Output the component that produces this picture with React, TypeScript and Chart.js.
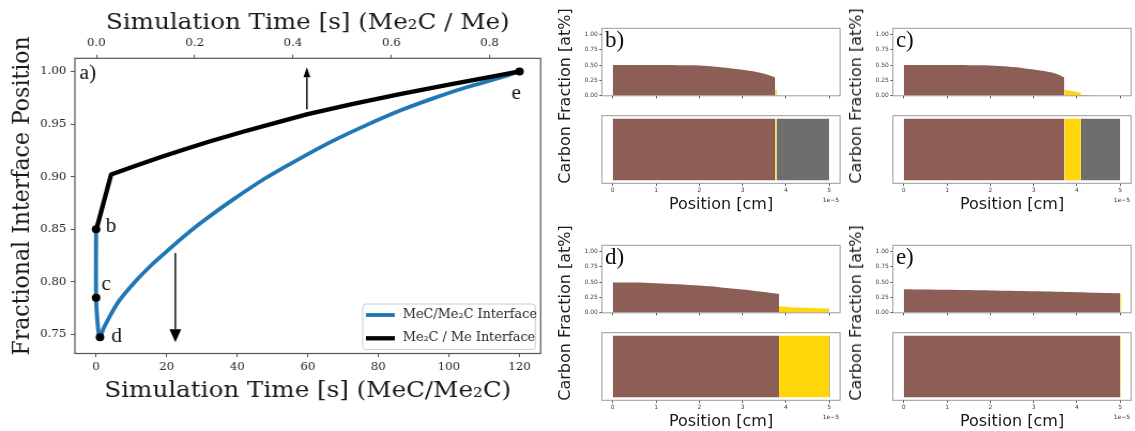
import React, { useEffect, useRef } from "react";
import { Chart, registerables } from "chart.js";

Chart.register(...registerables);

const SERIF = "'DejaVu Serif', serif";
const TIMES = "'Liberation Serif', 'Times New Roman', serif";
const SANS = "'DejaVu Sans', sans-serif";

const BLUE = "#1f77b4";
const BROWN = "#8c5e55";
const GOLD = "#ffd60a";
const GREY = "#6e6e6e";

// ---------- (a) fractional interface position vs simulation time ----------
// MeC/Me2C interface, plotted against the bottom time axis [s]
const mecTime = [0, 0, 0.4, 1.0, 2, 3.5, 6.5, 11, 16, 21, 25.5, 30, 38.7, 48.2, 57.6, 67.1, 76.6, 86, 95.5, 105, 114.5, 120];
const mecPosition = [0.85, 0.785, 0.762, 0.746, 0.755, 0.765, 0.782, 0.8, 0.817, 0.832, 0.845, 0.857, 0.878, 0.899, 0.917, 0.934, 0.949, 0.9626, 0.9744, 0.985, 0.994, 1.0];
// Me2C/Me interface, plotted against the top time axis [s]
const me2cTime = [0, 0.03, 0.08, 0.13, 0.18, 0.23, 0.3, 0.37, 0.43, 0.52, 0.6175, 0.72, 0.821, 0.861];
const me2cPosition = [0.85, 0.902, 0.9105, 0.9185, 0.926, 0.9335, 0.943, 0.9518, 0.9595, 0.969, 0.9785, 0.9878, 0.9965, 1.0];
// marked states b-e (bottom axis)
const stateName = ["b", "c", "d", "e"];
const stateTime = [0, 0, 1.1, 120];
const statePosition = [0.85, 0.785, 0.7475, 1.0];
const stateLabelTime = [2.7, 1.5, 4.3, 117.7];
const stateLabelPosition = [0.8474, 0.7919, 0.7434, 0.9734];
const panelTagTime = -4.68;
const panelTagPosition = 0.9928;
// direction arrows: axis, time, start and end position
const arrowAxis = ["x2", "x"];
const arrowTime = [0.4283, 22.47];
const arrowFrom = [0.9642, 0.8274];
const arrowTo = [1.0039, 0.7427];

// ---------- (b)-(e) carbon fraction profiles, position in 1e-5 cm ----------
const phaseNames = ["MeC", "Me₂C", "Me"];
const phaseColors = [BROWN, GOLD, GREY];

const bPosMeC = [0, 0.5, 1, 1.5, 2, 2.4, 2.8, 3.2, 3.5, 3.75];
const bFracMeC = [0.5, 0.5, 0.5, 0.499, 0.495, 0.474, 0.442, 0.405, 0.36, 0.3];
const bPosMe2C = [3.75, 3.79];
const bFracMe2C = [0.1, 0.1];
const bPosMe: number[] = [];
const bFracMe: number[] = [];
const bSpanMeC = [0, 3.75];
const bSpanMe2C = [3.75, 3.78];
const bSpanMe = [3.78, 5];

const cPosMeC = [0, 0.5, 1, 1.5, 2, 2.4, 2.8, 3.2, 3.5, 3.71];
const cFracMeC = [0.5, 0.5, 0.5, 0.499, 0.495, 0.476, 0.446, 0.408, 0.365, 0.3];
const cPosMe2C = [3.71, 3.9, 4.09];
const cFracMe2C = [0.097, 0.075, 0.053];
const cPosMe = [4.09, 4.3, 4.6, 5];
const cFracMe = [0.012, 0.006, 0.002, 0];
const cSpanMeC = [0, 3.71];
const cSpanMe2C = [3.71, 4.09];
const cSpanMe = [4.09, 5];

const dPosMeC = [0, 0.5, 1, 1.5, 2, 2.5, 3, 3.5, 3.84];
const dFracMeC = [0.495, 0.492, 0.482, 0.466, 0.443, 0.414, 0.379, 0.337, 0.305];
const dPosMe2C = [3.84, 4.1, 4.4, 4.7, 5.0];
const dFracMe2C = [0.105, 0.092, 0.082, 0.075, 0.07];
const dPosMe: number[] = [];
const dFracMe: number[] = [];
const dSpanMeC = [0, 3.84];
const dSpanMe2C = [3.84, 5.0];
const dSpanMe = [5.0, 5.02];

const ePosMeC = [0, 1, 2, 3, 4, 5];
const eFracMeC = [0.383, 0.374, 0.363, 0.351, 0.336, 0.318];
const ePosMe2C = [5.0, 5.03];
const eFracMe2C = [0.31, 0.31];
const ePosMe: number[] = [];
const eFracMe: number[] = [];
const eSpanMeC = [0, 5.0];
const eSpanMe2C = [5.0, 5.02];
const eSpanMe: number[] = [];

const pts = (xs: number[], ys: number[]) => xs.map((x, i) => ({ x, y: ys[i] }));

// ---------- main chart decorations ----------
const mainDecor = {
  id: "mainDecor",
  afterDatasetsDraw(chart: any) {
    const { ctx, chartArea, scales } = chart;
    const y = scales.y;
    ctx.save();
    // arrows
    arrowAxis.forEach((ax, i) => {
      const px = scales[ax].getPixelForValue(arrowTime[i]);
      const y0 = y.getPixelForValue(arrowFrom[i]);
      const y1 = y.getPixelForValue(arrowTo[i]);
      const dir = Math.sign(y1 - y0);
      const big = i === 1;
      const hl = big ? 13 : 10;
      const hw = big ? 11 : 6.5;
      ctx.strokeStyle = "#000";
      ctx.fillStyle = "#000";
      ctx.lineWidth = 1.4;
      ctx.beginPath();
      ctx.moveTo(px, y0);
      ctx.lineTo(px, y1 - dir * hl);
      ctx.stroke();
      ctx.beginPath();
      ctx.moveTo(px, y1);
      ctx.lineTo(px - hw / 2, y1 - dir * hl);
      ctx.lineTo(px + hw / 2, y1 - dir * hl);
      ctx.closePath();
      ctx.fill();
    });
    // state letters and panel tag
    ctx.fillStyle = "#111";
    ctx.font = `20px ${TIMES}`;
    ctx.textAlign = "left";
    ctx.textBaseline = "alphabetic";
    stateName.forEach((s, i) => {
      ctx.fillText(s, scales.x.getPixelForValue(stateLabelTime[i]), y.getPixelForValue(stateLabelPosition[i]));
    });
    ctx.fillText("a)", scales.x.getPixelForValue(panelTagTime), y.getPixelForValue(panelTagPosition));

    // legend, lower right
    const right = chartArea.right - 5;
    const left = right - 161.3;
    const bottom = chartArea.bottom - 4;
    const top = chartArea.bottom - 49.5;
    ctx.beginPath();
    ctx.roundRect(left, top, right - left, bottom - top, 3);
    ctx.fillStyle = "rgba(255,255,255,0.8)";
    ctx.fill();
    ctx.strokeStyle = "#cccccc";
    ctx.lineWidth = 1;
    ctx.stroke();
    const rows = [top + 11, top + 34.3];
    [0, 1].forEach((k) => {
      const ds = chart.data.datasets[k];
      ctx.strokeStyle = ds.borderColor;
      ctx.lineWidth = ds.borderWidth;
      ctx.beginPath();
      ctx.moveTo(left + 3, rows[k]);
      ctx.lineTo(left + 30, rows[k]);
      ctx.stroke();
      ctx.fillStyle = "#222";
      ctx.font = `12px ${SERIF}`;
      ctx.textBaseline = "middle";
      ctx.fillText(ds.label, left + 37.4, rows[k]);
    });
    ctx.restore();
  },
  afterDraw(chart: any) {
    const { ctx, chartArea } = chart;
    ctx.save();
    ctx.strokeStyle = "#555";
    ctx.lineWidth = 1.2;
    ctx.strokeRect(chartArea.left, chartArea.top, chartArea.right - chartArea.left, chartArea.bottom - chartArea.top);
    // vertical axis label, a little above the axis centre
    ctx.translate(21.7, (chartArea.top + chartArea.bottom) / 2 - 10);
    ctx.rotate(-Math.PI / 2);
    ctx.fillStyle = "#1a1a1a";
    ctx.font = `22px ${SERIF}`;
    ctx.textAlign = "center";
    ctx.textBaseline = "middle";
    ctx.fillText("Fractional Interface Position", 0, 0);
    ctx.restore();
  },
};

const tickGrid = (len: number, color: string) => ({
  display: true,
  drawOnChartArea: false,
  drawTicks: true,
  tickLength: len,
  tickColor: color,
  tickWidth: 1,
});

const mainConfig = (): any => ({
  type: "line",
  data: {
    datasets: [
      {
        label: "MeC/Me₂C Interface",
        data: pts(mecTime, mecPosition),
        xAxisID: "x",
        yAxisID: "y",
        borderColor: BLUE,
        borderWidth: 3.8,
        pointRadius: 0,
        tension: 0.3,
        fill: false,
        order: 3,
        borderJoinStyle: "round",
      },
      {
        label: "Me₂C / Me Interface",
        data: pts(me2cTime, me2cPosition),
        xAxisID: "x2",
        yAxisID: "y",
        borderColor: "#000",
        borderWidth: 4.3,
        pointRadius: 0,
        tension: 0,
        fill: false,
        order: 2,
        borderJoinStyle: "round",
      },
      {
        label: "states",
        data: pts(stateTime, statePosition),
        xAxisID: "x",
        yAxisID: "y",
        showLine: false,
        pointRadius: 4,
        pointBackgroundColor: "#000",
        pointBorderColor: "#000",
        pointBorderWidth: 0,
        order: 1,
      },
    ],
  },
  options: {
    animation: false,
    responsive: false,
    events: [],
    plugins: { legend: { display: false }, tooltip: { enabled: false } },
    layout: { padding: { left: 0, top: 0, right: 18.7, bottom: 0 } },
    scales: {
      x: {
        type: "linear",
        position: "bottom",
        min: -6,
        max: 126,
        border: { display: false },
        grid: tickGrid(3.5, "#555"),
        ticks: {
          stepSize: 20,
          includeBounds: false,
          padding: 3.7,
          maxRotation: 0,
          autoSkip: false,
          color: "#262626",
          font: { family: SERIF, size: 11 },
        },
        title: {
          display: true,
          text: "Simulation Time [s] (MeC/Me₂C)",
          color: "#1a1a1a",
          font: { family: SERIF, size: 23 },
          padding: { top: 0, bottom: 25.9 },
        },
        afterFit: (s: any) => {
          s.height = 431 - 353.5;
        },
      },
      x2: {
        type: "linear",
        position: "top",
        min: -0.0437,
        max: 0.904,
        border: { display: false },
        grid: tickGrid(3.5, "#555"),
        ticks: {
          stepSize: 0.2,
          includeBounds: false,
          padding: 4.7,
          maxRotation: 0,
          autoSkip: false,
          color: "#262626",
          font: { family: SERIF, size: 11 },
          callback: (v: any) => Number(v).toFixed(1),
        },
        title: {
          display: true,
          text: "Simulation Time [s] (Me₂C / Me)",
          color: "#1a1a1a",
          font: { family: SERIF, size: 23 },
          padding: { top: 8.9, bottom: 0 },
        },
        afterFit: (s: any) => {
          s.height = 58.3;
        },
      },
      y: {
        type: "linear",
        position: "left",
        min: 0.732,
        max: 1.0125,
        border: { display: false },
        grid: tickGrid(4, "#555"),
        ticks: {
          stepSize: 0.05,
          includeBounds: false,
          padding: 4,
          color: "#262626",
          font: { family: SERIF, size: 11 },
          callback: (v: any) => Number(v).toFixed(2),
        },
        afterFit: (s: any) => {
          s.width = 70;
        },
      },
    },
  },
  plugins: [mainDecor],
});

// ---------- small panels ----------
const frame = (color: string) => ({
  id: "frame",
  afterDraw(chart: any) {
    const { ctx, chartArea } = chart;
    ctx.save();
    ctx.strokeStyle = color;
    ctx.lineWidth = 1;
    ctx.strokeRect(chartArea.left, chartArea.top, chartArea.right - chartArea.left, chartArea.bottom - chartArea.top);
    ctx.restore();
  },
});

const tagText = (tag: string) => ({
  id: "tagText",
  afterDraw(chart: any) {
    const { ctx, chartArea } = chart;
    ctx.save();
    ctx.fillStyle = "#111";
    ctx.font = `23px ${TIMES}`;
    ctx.textAlign = "left";
    ctx.textBaseline = "alphabetic";
    ctx.fillText(tag, chartArea.left + 3, chartArea.top + 18.5);
    ctx.restore();
  },
});

const offsetText = {
  id: "offsetText",
  afterDraw(chart: any) {
    const { ctx, chartArea } = chart;
    ctx.save();
    ctx.fillStyle = "#333";
    ctx.font = `6px ${SANS}`;
    ctx.textAlign = "right";
    ctx.textBaseline = "middle";
    ctx.fillText("1e−5", chartArea.right - 1, chartArea.bottom + 17);
    ctx.restore();
  },
};

const smallTicks = {
  padding: 1.5,
  color: "#444",
  font: { family: SANS, size: 6 },
};

const profileConfig = (tag: string, xs: number[][], cs: number[][]): any => ({
  type: "line",
  data: {
    datasets: xs.map((x, k) => ({
      label: phaseNames[k],
      data: pts(x, cs[k]),
      fill: "origin",
      backgroundColor: phaseColors[k],
      borderColor: "rgba(0,0,0,0)",
      borderWidth: 0,
      pointRadius: 0,
      tension: 0.3,
    })),
  },
  options: {
    animation: false,
    responsive: false,
    events: [],
    plugins: { legend: { display: false }, tooltip: { enabled: false } },
    layout: { padding: { left: 0, top: 8.3, right: 6.9, bottom: 0 } },
    scales: {
      x: {
        type: "linear",
        min: -0.25,
        max: 5.25,
        border: { display: false },
        grid: tickGrid(2.5, "#555"),
        ticks: { display: false, stepSize: 1, includeBounds: false },
        afterFit: (s: any) => {
          s.height = 6.2;
        },
      },
      y: {
        type: "linear",
        min: 0,
        max: 1.1,
        border: { display: false },
        grid: tickGrid(2.5, "#555"),
        ticks: {
          ...smallTicks,
          stepSize: 0.25,
          includeBounds: false,
          callback: (v: any) => Number(v).toFixed(2),
        },
        afterFit: (s: any) => {
          s.width = 29.9;
        },
      },
    },
  },
  plugins: [frame("#9a9a9a"), tagText(tag)],
});

const phaseConfig = (spans: number[][]): any => ({
  type: "line",
  data: {
    datasets: spans.map((sp, k) => ({
      label: phaseNames[k],
      data: sp.map((x) => ({ x, y: 1 })),
      fill: "origin",
      backgroundColor: phaseColors[k],
      borderColor: "rgba(0,0,0,0)",
      borderWidth: 0,
      pointRadius: 0,
    })),
  },
  options: {
    animation: false,
    responsive: false,
    events: [],
    plugins: { legend: { display: false }, tooltip: { enabled: false } },
    layout: { padding: { left: 0, top: 7.7, right: 6.9, bottom: 0 } },
    scales: {
      x: {
        type: "linear",
        min: -0.25,
        max: 5.25,
        border: { display: false },
        grid: tickGrid(2.5, "#555"),
        ticks: { ...smallTicks, padding: 0.6, stepSize: 1, includeBounds: false, maxRotation: 0 },
        title: {
          display: true,
          text: "Position [cm]",
          color: "#1a1a1a",
          font: { family: SANS, size: 16 },
          padding: { top: 0, bottom: 0 },
        },
        afterFit: (s: any) => {
          s.height = 30.7;
        },
      },
      y: {
        type: "linear",
        min: -0.05,
        max: 1.05,
        border: { display: false },
        grid: { display: false },
        ticks: { display: false },
        afterFit: (s: any) => {
          s.width = 29.9;
        },
      },
    },
  },
  plugins: [frame("#9a9a9a"), offsetText],
});

function ChartCanvas({ config, left, top, width, height }: { config: () => any; left: number; top: number; width: number; height: number }) {
  const ref = useRef<HTMLCanvasElement>(null);
  useEffect(() => {
    const chart = new Chart(ref.current as HTMLCanvasElement, config());
    return () => chart.destroy();
  }, []);
  return (
    <canvas
      ref={ref}
      width={width}
      height={height}
      style={{ position: "absolute", left, top, width, height, display: "block" }}
    />
  );
}

function PhasePanel({
  ox,
  oy,
  tag,
  xs,
  cs,
  spans,
}: {
  ox: number;
  oy: number;
  tag: string;
  xs: number[][];
  cs: number[][];
  spans: number[][];
}) {
  return (
    <>
      <div
        style={{
          position: "absolute",
          left: 565 + ox,
          top: 96 + oy,
          transform: "translate(-50%, -50%) rotate(-90deg)",
          font: `16px ${SANS}`,
          color: "#1a1a1a",
          whiteSpace: "nowrap",
          lineHeight: "18px",
        }}
      >
        Carbon Fraction [at%]
      </div>
      <ChartCanvas left={572 + ox} top={20 + oy} width={275} height={82} config={() => profileConfig(tag, xs, cs)} />
      <ChartCanvas left={572 + ox} top={108 + oy} width={275} height={106} config={() => phaseConfig(spans)} />
    </>
  );
}

export default function App() {
  return (
    <div
      style={{
        position: "fixed",
        left: 0,
        top: 0,
        width: 1135,
        height: 431,
        overflow: "hidden",
        background: "#fff",
      }}
    >
      <div style={{ position: "absolute", left: 0, top: 0, width: 524, height: 431, transform: "scaleX(1.07)", transformOrigin: "0 0" }}>
        <ChartCanvas left={0} top={0} width={524} height={431} config={mainConfig} />
      </div>
      <PhasePanel
        ox={0}
        oy={0}
        tag="b)"
        xs={[bPosMeC, bPosMe2C, bPosMe]}
        cs={[bFracMeC, bFracMe2C, bFracMe]}
        spans={[bSpanMeC, bSpanMe2C, bSpanMe]}
      />
      <PhasePanel
        ox={290.5}
        oy={0}
        tag="c)"
        xs={[cPosMeC, cPosMe2C, cPosMe]}
        cs={[cFracMeC, cFracMe2C, cFracMe]}
        spans={[cSpanMeC, cSpanMe2C, cSpanMe]}
      />
      <PhasePanel
        ox={0}
        oy={217}
        tag="d)"
        xs={[dPosMeC, dPosMe2C, dPosMe]}
        cs={[dFracMeC, dFracMe2C, dFracMe]}
        spans={[dSpanMeC, dSpanMe2C, dSpanMe]}
      />
      <PhasePanel
        ox={290.5}
        oy={217}
        tag="e)"
        xs={[ePosMeC, ePosMe2C, ePosMe]}
        cs={[eFracMeC, eFracMe2C, eFracMe]}
        spans={[eSpanMeC, eSpanMe2C, eSpanMe]}
      />
    </div>
  );
}
